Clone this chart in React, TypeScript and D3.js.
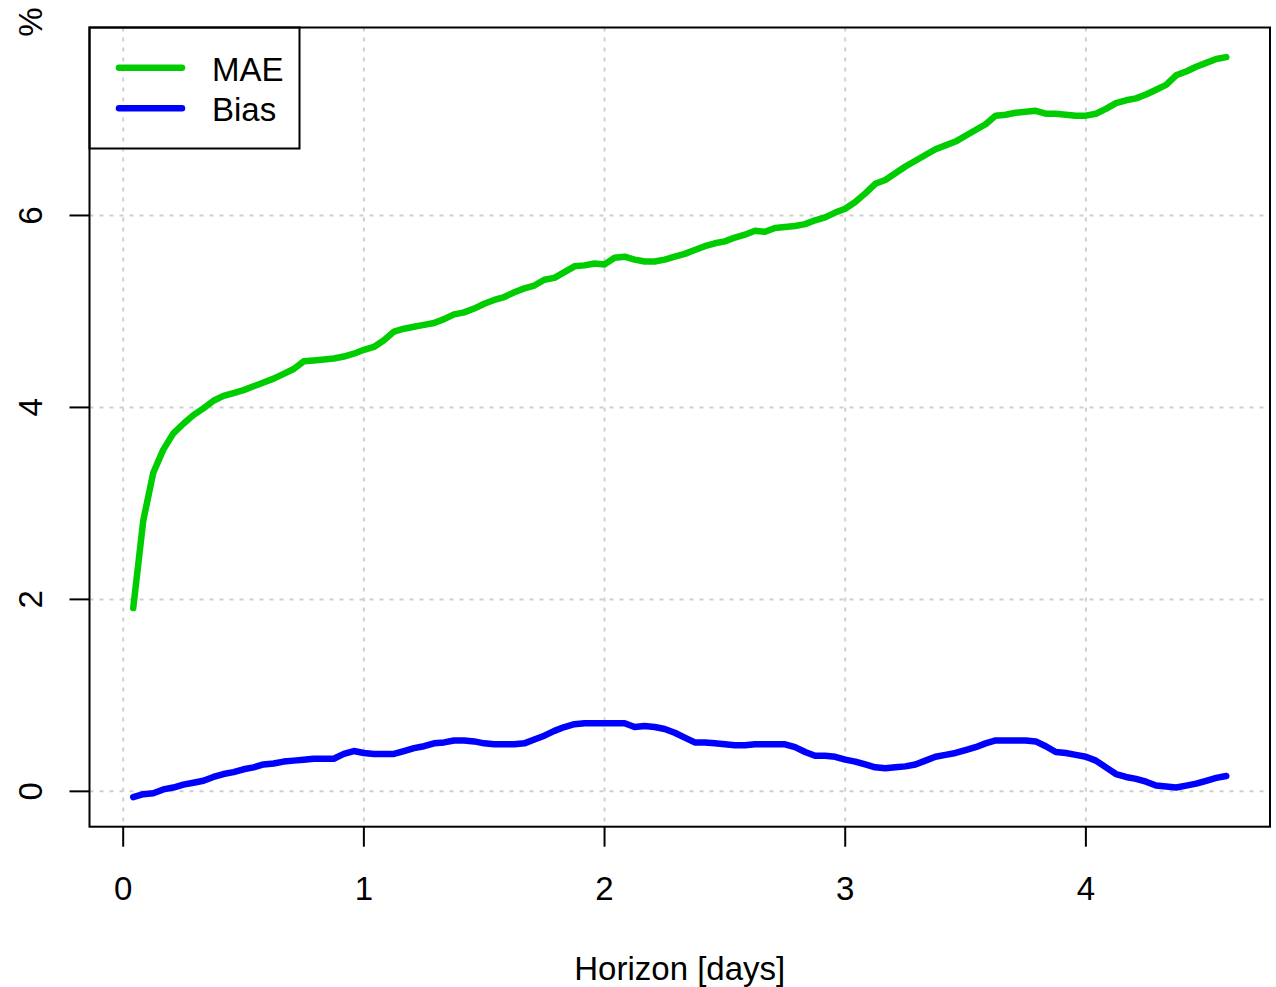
import React from "react";
import * as d3 from "d3";

const hours: number[] = [
  1, 2, 3, 4, 5, 6, 7, 8, 9, 10, 11, 12, 13, 14, 15, 16, 17, 18, 19, 20,
  21, 22, 23, 24, 25, 26, 27, 28, 29, 30, 31, 32, 33, 34, 35, 36, 37, 38, 39, 40,
  41, 42, 43, 44, 45, 46, 47, 48, 49, 50, 51, 52, 53, 54, 55, 56, 57, 58, 59, 60,
  61, 62, 63, 64, 65, 66, 67, 68, 69, 70, 71, 72, 73, 74, 75, 76, 77, 78, 79, 80,
  81, 82, 83, 84, 85, 86, 87, 88, 89, 90, 91, 92, 93, 94, 95, 96, 97, 98, 99, 100,
  101, 102, 103, 104, 105, 106, 107, 108, 109, 110,
];

const maeValues: number[] = [
  1.91, 2.82, 3.32, 3.56, 3.73, 3.83, 3.92, 3.99, 4.07, 4.12, 4.15, 4.18, 4.22, 4.26, 4.3, 4.35, 4.4, 4.48, 4.49, 4.5,
  4.51, 4.53, 4.56, 4.6, 4.63, 4.7, 4.79, 4.82, 4.84, 4.86, 4.88, 4.92, 4.97, 4.99, 5.03, 5.08, 5.12, 5.15, 5.2, 5.24,
  5.27, 5.33, 5.35, 5.41, 5.47, 5.48, 5.5, 5.49, 5.56, 5.57, 5.54, 5.52, 5.52, 5.54, 5.57, 5.6, 5.64, 5.68, 5.71, 5.73,
  5.77, 5.8, 5.84, 5.83, 5.87, 5.88, 5.89, 5.91, 5.95, 5.98, 6.03, 6.07, 6.14, 6.23, 6.33, 6.37, 6.44, 6.51, 6.57, 6.63,
  6.69, 6.73, 6.77, 6.83, 6.89, 6.95, 7.04, 7.05, 7.07, 7.08, 7.09, 7.06, 7.06, 7.05, 7.04, 7.04, 7.06, 7.11, 7.17, 7.2,
  7.22, 7.26, 7.31, 7.36, 7.46, 7.5, 7.55, 7.59, 7.63, 7.65,
];

const biasValues: number[] = [
  -0.06, -0.03, -0.02, 0.02, 0.04, 0.07, 0.09, 0.11, 0.15, 0.18, 0.2, 0.23, 0.25, 0.28, 0.29, 0.31, 0.32, 0.33, 0.34, 0.34,
  0.34, 0.39, 0.42, 0.4, 0.39, 0.39, 0.39, 0.42, 0.45, 0.47, 0.5, 0.51, 0.53, 0.53, 0.52, 0.5, 0.49, 0.49, 0.49, 0.5,
  0.54, 0.58, 0.63, 0.67, 0.7, 0.71, 0.71, 0.71, 0.71, 0.71, 0.67, 0.68, 0.67, 0.65, 0.61, 0.56, 0.51, 0.51, 0.5, 0.49,
  0.48, 0.48, 0.49, 0.49, 0.49, 0.49, 0.46, 0.41, 0.37, 0.37, 0.36, 0.33, 0.31, 0.28, 0.25, 0.24, 0.25, 0.26, 0.28, 0.32,
  0.36, 0.38, 0.4, 0.43, 0.46, 0.5, 0.53, 0.53, 0.53, 0.53, 0.52, 0.47, 0.41, 0.4, 0.38, 0.36, 0.32, 0.25, 0.18, 0.15,
  0.13, 0.1, 0.06, 0.05, 0.04, 0.06, 0.08, 0.11, 0.14, 0.16,
];

const xTicks: number[] = [0, 1, 2, 3, 4];
const yTicks: number[] = [0, 2, 4, 6];
const seriesNames: string[] = ["MAE", "Bias"];
const seriesColors: string[] = ["#00cd00", "#0000ff"];
const xLabel = "Horizon [days]";
const yLabel = "%";

export default function App() {
  const W = 1276;
  const H = 987;
  const left = 89.5;
  const right = 1270;
  const top = 27.5;
  const bottom = 826.7;
  const font = "'Liberation Sans', Arial, Helvetica, sans-serif";
  const fs = 33;

  const days = hours.map((h) => h / 24);
  const xMin = d3.min(days)!;
  const xMax = d3.max(days)!;
  const allY = [...maeValues, ...biasValues];
  const yMin = d3.min(allY)!;
  const yMax = d3.max(allY)!;
  const xPad = (xMax - xMin) * 0.04;
  const yPad = (yMax - yMin) * 0.04;

  const x = d3.scaleLinear().domain([xMin - xPad, xMax + xPad]).range([left, right]);
  const y = d3.scaleLinear().domain([yMin - yPad, yMax + yPad]).range([bottom, top]);

  const line = d3
    .line<[number, number]>()
    .x((d) => x(d[0]))
    .y((d) => y(d[1]));

  const series = [maeValues, biasValues].map((vals) =>
    vals.map((v, i) => [days[i], v] as [number, number])
  );

  return (
    <svg
      width={W}
      height={H}
      style={{ position: "absolute", left: 0, top: 0, background: "#fff" }}
      fontFamily={font}
    >
      <rect x={0} y={0} width={W} height={H} fill="#fff" />
      {/* grid */}
      <g stroke="#cfcfcf" strokeWidth={2} strokeDasharray="4,6">
        {xTicks.map((t) => (
          <line key={"gx" + t} x1={x(t)} x2={x(t)} y1={top} y2={bottom} />
        ))}
        {yTicks.map((t) => (
          <line key={"gy" + t} x1={left} x2={right} y1={y(t)} y2={y(t)} />
        ))}
      </g>
      {/* series */}
      {series.map((pts, i) => (
        <path
          key={seriesNames[i]}
          d={line(pts) || ""}
          fill="none"
          stroke={seriesColors[i]}
          strokeWidth={6.5}
          strokeLinecap="round"
          strokeLinejoin="round"
        />
      ))}
      {/* frame */}
      <rect x={left} y={top} width={right - left} height={bottom - top} fill="none" stroke="#000" strokeWidth={2} />
      {/* x axis */}
      <g>
        {xTicks.map((t) => (
          <g key={"xt" + t}>
            <line x1={x(t)} x2={x(t)} y1={bottom} y2={bottom + 20} stroke="#000" strokeWidth={2} />
            <text x={x(t)} y={900} textAnchor="middle" fontSize={fs} fill="#000">
              {t}
            </text>
          </g>
        ))}
        <text x={(left + right) / 2} y={980} textAnchor="middle" fontSize={fs} fill="#000">
          {xLabel}
        </text>
      </g>
      {/* y axis */}
      <g>
        {yTicks.map((t) => (
          <g key={"yt" + t}>
            <line x1={left - 20} x2={left} y1={y(t)} y2={y(t)} stroke="#000" strokeWidth={2} />
            <text
              transform={`translate(42,${y(t)}) rotate(-90)`}
              textAnchor="middle"
              fontSize={fs}
              fill="#000"
            >
              {t}
            </text>
          </g>
        ))}
        <text transform={`translate(42,22) rotate(-90)`} textAnchor="middle" fontSize={fs} fill="#000">
          {yLabel}
        </text>
      </g>
      {/* legend */}
      <g>
        <rect x={89.5} y={27.5} width={210} height={121} fill="none" stroke="#000" strokeWidth={2} />
        {seriesNames.map((n, i) => (
          <g key={"lg" + n}>
            <line
              x1={119}
              x2={182}
              y1={67.7 + i * 40.5}
              y2={67.7 + i * 40.5}
              stroke={seriesColors[i]}
              strokeWidth={6.5}
              strokeLinecap="round"
            />
            <text x={212} y={80.5 + i * 40.5} fontSize={fs} fill="#000">
              {n}
            </text>
          </g>
        ))}
      </g>
    </svg>
  );
}
